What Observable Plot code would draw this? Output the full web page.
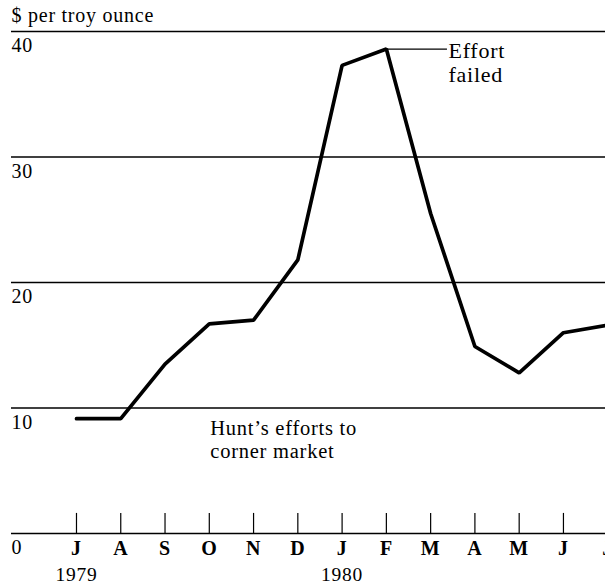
<!DOCTYPE html>
<html>
<head>
<meta charset="utf-8">
<script src="https://cdn.jsdelivr.net/npm/d3@7"></script>
<script src="https://cdn.jsdelivr.net/npm/@observablehq/plot@0.6"></script>
<style>
  html, body { margin: 0; padding: 0; background: #fff; }
  #chart svg { display: block; }
  #chart svg text { letter-spacing: 0.75px; }
</style>
</head>
<body>
<div id="chart"></div>
<script>
// Silver price, $ per troy ounce, monthly Jul 1979 – Jul 1980
const monthLabels = ["J","A","S","O","N","D","J","F","M","A","M","J","J"];
const prices = [9.15, 9.15, 13.5, 16.7, 17.0, 21.8, 37.3, 38.6, 25.5, 14.9, 12.8, 16.0, 16.6];
const yTicks = [0, 10, 20, 30, 40];
const yearLabels = ["1979", "1980"];
const yearIndex = [0, 6];
const unitLabel = "$ per troy ounce";
const peakNote = "Effort\nfailed";
const huntNote = "Hunt’s efforts to\ncorner market";

const data = prices.map((v, i) => ({i, v, m: monthLabels[i]}));
const years = yearLabels.map((label, k) => ({i: yearIndex[k], label}));
const peak = data[7];

const font = "Liberation Serif, Times New Roman, serif";

const chart = Plot.plot({
  width: 605,
  height: 585,
  marginTop: 31,
  marginBottom: 52,
  marginLeft: 11,
  marginRight: 0,
  style: {fontFamily: font, background: "#fff", color: "#000"},
  x: {domain: [-1.468, 11.95], axis: null},
  y: {domain: [0, 40], axis: null},
  marks: [
    Plot.ruleY(yTicks, {stroke: "#000", strokeWidth: 1.3}),
    Plot.text(yTicks, {y: d => d, text: d => String(d), frameAnchor: "left", textAnchor: "start", dy: 14.5, fontSize: 20, fill: "#000"}),
    Plot.ruleX(data, {x: "i", y1: 0, y2: 1.6, stroke: "#000", strokeWidth: 1.2, clip: true}),
    Plot.text(data, {x: "i", y: 0, text: "m", dy: 15.5, fontSize: 20, fontWeight: "bold", fill: "#000"}),
    Plot.text(years, {x: "i", y: 0, text: "label", dy: 41, fontSize: 19.5, fill: "#000"}),
    Plot.line(data, {x: "i", y: "v", stroke: "#000", strokeWidth: 3.7, strokeLinejoin: "miter", clip: true}),
    Plot.ruleY([peak], {y: "v", x1: "i", x2: d => d.i + 1.38, stroke: "#000", strokeWidth: 1.2}),
    Plot.text([peak], {x: d => d.i + 1.38, y: "v", text: () => peakNote, textAnchor: "start", lineAnchor: "top", dx: 1, dy: -7, lineHeight: 1.05, fontSize: 22, fill: "#000"}),
    Plot.text([{i: 3, v: 7.5}], {x: "i", y: "v", text: () => huntNote, textAnchor: "start", lineAnchor: "middle", dx: 1, lineHeight: 1.12, fontSize: 20.5, fill: "#000"}),
    Plot.text([unitLabel], {frameAnchor: "top-left", text: d => d, textAnchor: "start", lineAnchor: "bottom", dy: -10, fontSize: 20, fill: "#000"})
  ]
});

document.getElementById("chart").appendChild(chart);
</script>
</body>
</html>
